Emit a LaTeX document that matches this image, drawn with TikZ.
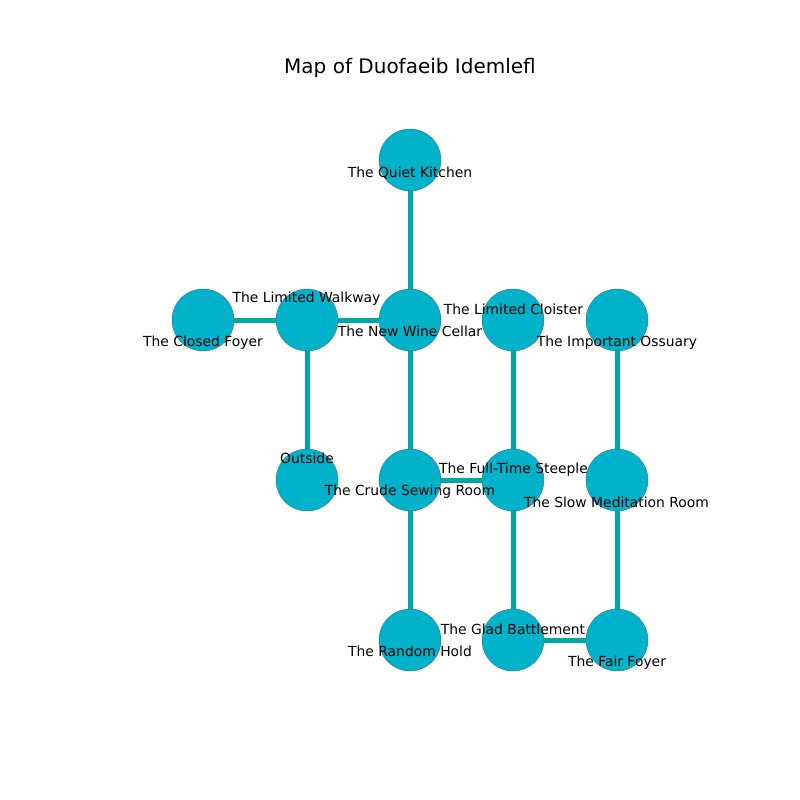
\documentclass[tikz,border=0pt]{standalone}
\usepackage{fontspec}
\setmainfont{DejaVu Sans}
\definecolor{nodefill}{RGB}{0,178,202}
\definecolor{nodeedge}{RGB}{40,120,130}
\definecolor{edgecol}{RGB}{0,166,166}
\begin{document}
\begin{tikzpicture}[x=0.72pt,y=-0.72pt,
  room/.style={circle,fill=nodefill,draw=nodeedge,line width=0.3pt,minimum size=44.6pt,inner sep=0pt},
  link/.style={draw=edgecol,line width=3.6pt},
  lbl/.style={font=\fontsize{10}{12}\selectfont,inner sep=0pt,anchor=center,yshift=-1.3pt}]
\useasboundingbox[fill=white] (0,0) rectangle (800,800);
\node[font=\fontsize{14.4}{17}\selectfont] (title) at (410,67.5) {Map of Duofaeib Idemlefl};
% node positions
\coordinate (cK) at (410,160);
\coordinate (cCF) at (203,320);
\coordinate (cLW) at (307,320);
\coordinate (cNWC) at (410,320);
\coordinate (cLC) at (513,320);
\coordinate (cIO) at (617,320);
\coordinate (cO) at (307,480);
\coordinate (cCSR) at (410,480);
\coordinate (cFTS) at (513,480);
\coordinate (cSMR) at (617,480);
\coordinate (cRH) at (410,640);
\coordinate (cGB) at (513,640);
\coordinate (cFF) at (617,640);
% edges
\draw[link] (cK) -- (cNWC);
\draw[link] (cCF) -- (cLW);
\draw[link] (cLW) -- (cNWC);
\draw[link] (cLW) -- (cO);
\draw[link] (cNWC) -- (cCSR);
\draw[link] (cLC) -- (cFTS);
\draw[link] (cIO) -- (cSMR);
\draw[link] (cCSR) -- (cFTS);
\draw[link] (cCSR) -- (cRH);
\draw[link] (cFTS) -- (cGB);
\draw[link] (cSMR) -- (cFF);
\draw[link] (cGB) -- (cFF);
% nodes
\node[room] (K) at (cK) {};
\node[room] (CF) at (cCF) {};
\node[room] (LW) at (cLW) {};
\node[room] (NWC) at (cNWC) {};
\node[room] (LC) at (cLC) {};
\node[room] (IO) at (cIO) {};
\node[room] (O) at (cO) {};
\node[room] (CSR) at (cCSR) {};
\node[room] (FTS) at (cFTS) {};
\node[room] (SMR) at (cSMR) {};
\node[room] (RH) at (cRH) {};
\node[room] (GB) at (cGB) {};
\node[room] (FF) at (cFF) {};
% labels
\node[lbl] (lK) at (410,171) {The Quiet Kitchen};
\node[lbl] (lCF) at (203,341) {The Closed Foyer};
\node[lbl] (lLW) at (306.5,297) {The Limited Walkway};
\node[lbl] (lNWC) at (410,330) {The New Wine Cellar};
\node[lbl] (lLC) at (513.5,308) {The Limited Cloister};
\node[lbl] (lIO) at (617,341) {The Important Ossuary};
\node[lbl] (lO) at (307,457) {Outside};
\node[lbl] (lCSR) at (410,490) {The Crude Sewing Room};
\node[lbl] (lFTS) at (513.5,468) {The Full-Time Steeple};
\node[lbl] (lSMR) at (616.5,501) {The Slow Meditation Room};
\node[lbl] (lRH) at (410,650) {The Random Hold};
\node[lbl] (lGB) at (513,628) {The Glad Battlement};
\node[lbl] (lFF) at (617,661) {The Fair Foyer};
\end{tikzpicture}
\end{document}
